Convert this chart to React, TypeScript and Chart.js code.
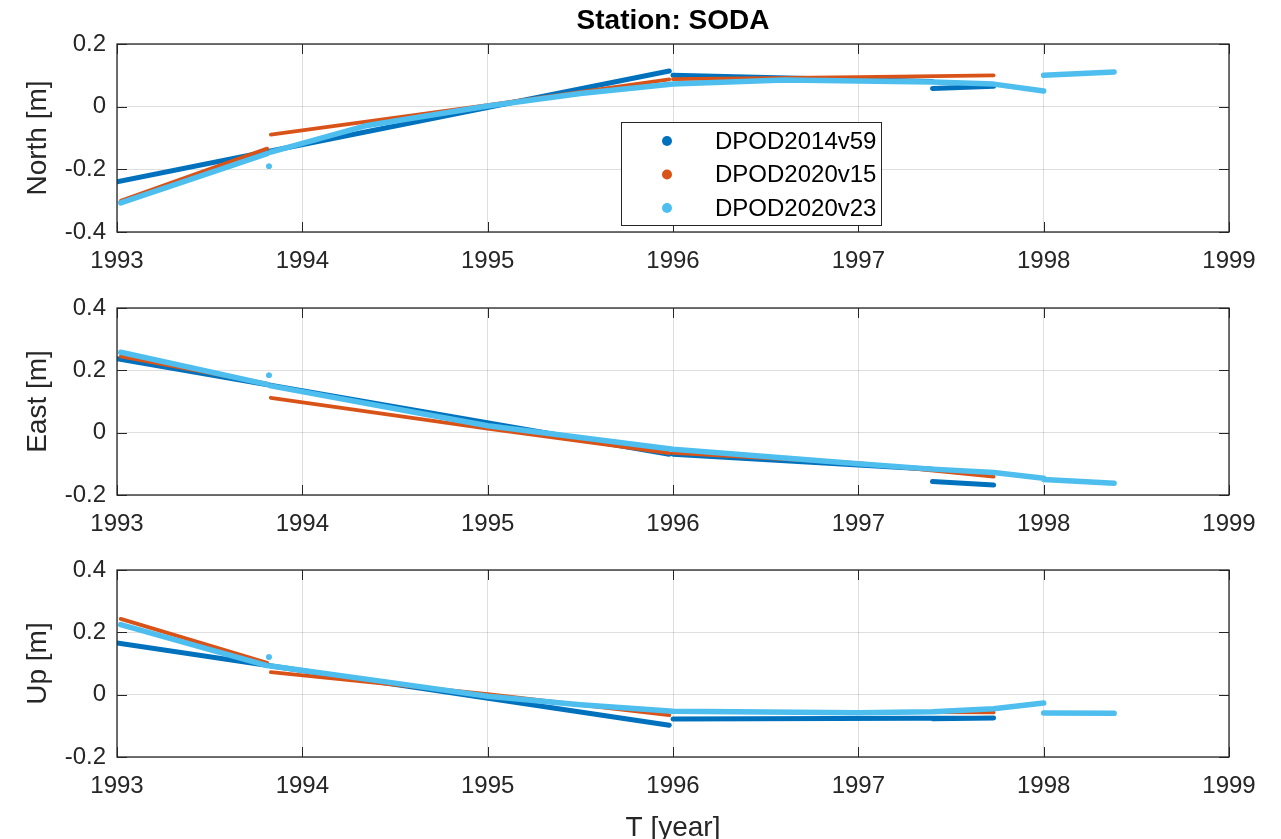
import React, { useEffect, useRef } from 'react';
import { Chart, registerables } from 'chart.js';

Chart.register(...registerables);

type Pt = [number, number];
type Seg = Pt[];

const SERIES_NAMES = ['DPOD2014v59', 'DPOD2020v15', 'DPOD2020v23'];
const SERIES_COLORS = ['#0072BD', '#D95319', '#4DBEEE'];
const SERIES_WIDTHS = [5, 3.8, 5.5];

const X_TICKS = [1993, 1994, 1995, 1996, 1997, 1998, 1999];
const NORTH_TICKS = [-0.4, -0.2, 0, 0.2];
const EAST_TICKS = [-0.2, 0, 0.2, 0.4];
const UP_TICKS = [-0.2, 0, 0.2, 0.4];

// North component [m]
const NORTH_2014V59: Seg[] = [
  [[1993.0, -0.24], [1995.98, 0.114]],
  [[1996.0, 0.1], [1997.4, 0.08]],
  [[1997.4, 0.058], [1997.73, 0.065]],
];
const NORTH_2020V15: Seg[] = [
  [[1993.02, -0.3], [1993.81, -0.134]],
  [[1993.83, -0.089], [1995.0, 0.005], [1995.98, 0.087]],
  [[1996.0, 0.088], [1997.0, 0.094], [1997.73, 0.1]],
];
const NORTH_2020V23: Seg[] = [
  [[1993.02, -0.307], [1993.81, -0.15]],
  [[1993.82, -0.19]],
  [[1993.83, -0.145], [1994.35, -0.06], [1995.0, 0.002], [1995.5, 0.042], [1996.0, 0.072], [1996.6, 0.085], [1997.4, 0.079], [1997.73, 0.072], [1998.0, 0.05]],
  [[1998.0, 0.1], [1998.38, 0.111]],
];

// East component [m]
const EAST_2014V59: Seg[] = [
  [[1993.0, 0.237], [1995.98, -0.069]],
  [[1996.0, -0.069], [1997.0, -0.104], [1997.4, -0.117]],
  [[1997.4, -0.157], [1997.73, -0.168]],
];
const EAST_2020V15: Seg[] = [
  [[1993.02, 0.245], [1993.81, 0.157]],
  [[1993.83, 0.112], [1995.0, 0.013], [1995.98, -0.066]],
  [[1996.0, -0.065], [1997.0, -0.098], [1997.73, -0.141]],
];
const EAST_2020V23: Seg[] = [
  [[1993.02, 0.258], [1993.81, 0.155]],
  [[1993.82, 0.184]],
  [[1993.83, 0.15], [1995.0, 0.022], [1996.0, -0.053], [1997.0, -0.1], [1997.4, -0.117], [1997.73, -0.128], [1998.0, -0.146]],
  [[1998.0, -0.15], [1998.38, -0.162]],
];

// Up component [m]
const UP_2014V59: Seg[] = [
  [[1993.0, 0.166], [1995.98, -0.098]],
  [[1996.0, -0.078], [1997.73, -0.075]],
  [[1997.4, -0.077], [1997.73, -0.075]],
];
const UP_2020V15: Seg[] = [
  [[1993.02, 0.243], [1993.81, 0.102]],
  [[1993.83, 0.072], [1995.0, 0.002], [1995.98, -0.066]],
  [[1996.0, -0.055], [1997.0, -0.055], [1997.73, -0.057]],
];
const UP_2020V23: Seg[] = [
  [[1993.02, 0.225], [1993.81, 0.093]],
  [[1993.82, 0.121]],
  [[1993.83, 0.092], [1994.5, 0.037], [1995.0, -0.005], [1995.5, -0.032], [1996.0, -0.053], [1997.0, -0.058], [1997.4, -0.055], [1997.73, -0.045], [1998.0, -0.027]],
  [[1998.0, -0.059], [1998.38, -0.06]],
];

const PANELS = [
  { yLabel: 'North [m]', yTicks: NORTH_TICKS, series: [NORTH_2014V59, NORTH_2020V15, NORTH_2020V23] },
  { yLabel: 'East [m]', yTicks: EAST_TICKS, series: [EAST_2014V59, EAST_2020V15, EAST_2020V23] },
  { yLabel: 'Up [m]', yTicks: UP_TICKS, series: [UP_2014V59, UP_2020V15, UP_2020V23] },
];

const TITLE = 'Station: SODA';
const X_LABEL = 'T [year]';

const W = 1281;
const H = 839;
const FONT = '"Liberation Sans", Arial, Helvetica, sans-serif';
const AXIS_COLOR = '#262626';

const LAYOUTS = [
  { padTop: 0, padBottom: 567, xHeight: 40 },
  { padTop: 308, padBottom: 304, xHeight: 40 },
  { padTop: 570, padBottom: 0, xHeight: 82 },
];

function buildData(segs: Seg[]) {
  const data: { x: number; y: number | null }[] = [];
  const radius: number[] = [];
  segs.forEach((s, i) => {
    if (i > 0) {
      data.push({ x: s[0][0], y: null });
      radius.push(0);
    }
    const single = s.length === 1;
    s.forEach(([x, y]) => {
      data.push({ x, y });
      radius.push(single ? 2.8 : 0);
    });
  });
  return { data, radius };
}

function fmtY(v: number) {
  if (Math.abs(v) < 1e-9) return '0';
  return String(+v.toFixed(1));
}

const matlabAxes = {
  id: 'matlabAxes',
  afterDatasetsDraw(chart: any) {
    const { ctx, chartArea: a, scales } = chart;
    const tl = 10;
    ctx.save();
    ctx.strokeStyle = AXIS_COLOR;
    ctx.lineWidth = 1;
    ctx.beginPath();
    scales.x.ticks.forEach((t: any) => {
      const px = Math.round(scales.x.getPixelForValue(t.value)) + 0.5;
      ctx.moveTo(px, a.top);
      ctx.lineTo(px, a.top + tl);
      ctx.moveTo(px, a.bottom);
      ctx.lineTo(px, a.bottom - tl);
    });
    scales.y.ticks.forEach((t: any) => {
      const py = Math.round(scales.y.getPixelForValue(t.value)) + 0.5;
      ctx.moveTo(a.left, py);
      ctx.lineTo(a.left + tl, py);
      ctx.moveTo(a.right, py);
      ctx.lineTo(a.right - tl, py);
    });
    ctx.stroke();
    ctx.lineWidth = 1.3;
    ctx.strokeRect(a.left, a.top, a.right - a.left, a.bottom - a.top);
    ctx.restore();
  },
};

const matlabLegend = {
  id: 'matlabLegend',
  afterDraw(chart: any) {
    const { ctx, chartArea: a } = chart;
    const x0 = a.left + 504;
    const y0 = a.top + 78;
    const w = 260;
    const h = 103;
    ctx.save();
    ctx.fillStyle = '#ffffff';
    ctx.fillRect(x0, y0, w, h);
    ctx.strokeStyle = AXIS_COLOR;
    ctx.lineWidth = 1;
    ctx.strokeRect(x0 + 0.5, y0 + 0.5, w, h);
    ctx.font = `24px ${FONT}`;
    ctx.textBaseline = 'middle';
    ctx.textAlign = 'left';
    SERIES_NAMES.forEach((n, i) => {
      const cy = y0 + 19 + i * 33.5;
      ctx.fillStyle = SERIES_COLORS[i];
      ctx.beginPath();
      ctx.arc(x0 + 46, cy, 5, 0, Math.PI * 2);
      ctx.fill();
      ctx.fillStyle = '#000000';
      ctx.fillText(n, x0 + 94, cy + 1);
    });
    ctx.restore();
  },
};

function makeConfig(idx: number): any {
  const p = PANELS[idx];
  const L = LAYOUTS[idx];
  const datasets = p.series.map((segs, i) => {
    const { data, radius } = buildData(segs);
    return {
      label: SERIES_NAMES[i],
      data,
      borderColor: SERIES_COLORS[i],
      backgroundColor: SERIES_COLORS[i],
      borderWidth: SERIES_WIDTHS[i],
      borderCapStyle: 'round',
      borderJoinStyle: 'round',
      pointRadius: radius,
      pointHoverRadius: radius,
      pointBorderWidth: 0,
      pointBackgroundColor: SERIES_COLORS[i],
      showLine: true,
      spanGaps: false,
      tension: 0,
      order: 3 - i,
    };
  });
  const last = idx === PANELS.length - 1;
  return {
    type: 'line',
    data: { datasets },
    plugins: idx === 0 ? [matlabAxes, matlabLegend] : [matlabAxes],
    options: {
      animation: false,
      responsive: false,
      devicePixelRatio: 1,
      events: [],
      layout: { padding: { top: L.padTop, bottom: L.padBottom, left: 0, right: 52 } },
      plugins: {
        legend: { display: false },
        tooltip: { enabled: false },
        title: {
          display: idx === 0,
          text: TITLE,
          fullSize: false,
          color: '#000000',
          font: { family: FONT, size: 28, weight: 'bold', lineHeight: 1.2 },
          padding: { top: 4, bottom: 6.4 },
        },
      },
      scales: {
        x: {
          type: 'linear',
          position: 'bottom',
          min: X_TICKS[0],
          max: X_TICKS[X_TICKS.length - 1],
          afterBuildTicks: (s: any) => {
            s.ticks = X_TICKS.map((v) => ({ value: v }));
          },
          afterFit: (s: any) => {
            s.height = L.xHeight;
          },
          ticks: {
            color: AXIS_COLOR,
            font: { family: FONT, size: 24 },
            padding: 15,
            maxRotation: 0,
            autoSkip: false,
            callback: (v: number) => String(v),
          },
          grid: { color: 'rgba(38,38,38,0.15)', lineWidth: 1, drawTicks: false },
          border: { display: false },
          title: {
            display: last,
            text: X_LABEL,
            color: AXIS_COLOR,
            font: { family: FONT, size: 28, lineHeight: 0.786 },
            padding: 0,
          },
        },
        y: {
          type: 'linear',
          position: 'left',
          min: p.yTicks[0],
          max: p.yTicks[p.yTicks.length - 1],
          afterBuildTicks: (s: any) => {
            s.ticks = p.yTicks.map((v) => ({ value: v }));
          },
          afterFit: (s: any) => {
            s.width = 117;
          },
          ticks: {
            color: AXIS_COLOR,
            font: { family: FONT, size: 24 },
            padding: 11,
            autoSkip: false,
            callback: (v: number) => fmtY(v),
          },
          grid: { color: 'rgba(38,38,38,0.15)', lineWidth: 1, drawTicks: false },
          border: { display: false },
          title: {
            display: true,
            text: p.yLabel,
            color: AXIS_COLOR,
            font: { family: FONT, size: 28, lineHeight: 1.2 },
            padding: { top: 21, bottom: 0 },
          },
        },
      },
    },
  };
}

function PanelCanvas({ idx }: { idx: number }) {
  const ref = useRef<HTMLCanvasElement | null>(null);
  useEffect(() => {
    if (!ref.current) return;
    const chart = new Chart(ref.current, makeConfig(idx));
    return () => chart.destroy();
  }, [idx]);
  return (
    <canvas
      ref={ref}
      width={W}
      height={H}
      style={{ position: 'absolute', left: 0, top: 0, width: W, height: H }}
    />
  );
}

export default function App() {
  return (
    <div
      style={{
        position: 'absolute',
        left: 0,
        top: 0,
        width: W,
        height: H,
        background: '#ffffff',
        overflow: 'hidden',
      }}
    >
      {PANELS.map((_, i) => (
        <PanelCanvas key={i} idx={i} />
      ))}
    </div>
  );
}
